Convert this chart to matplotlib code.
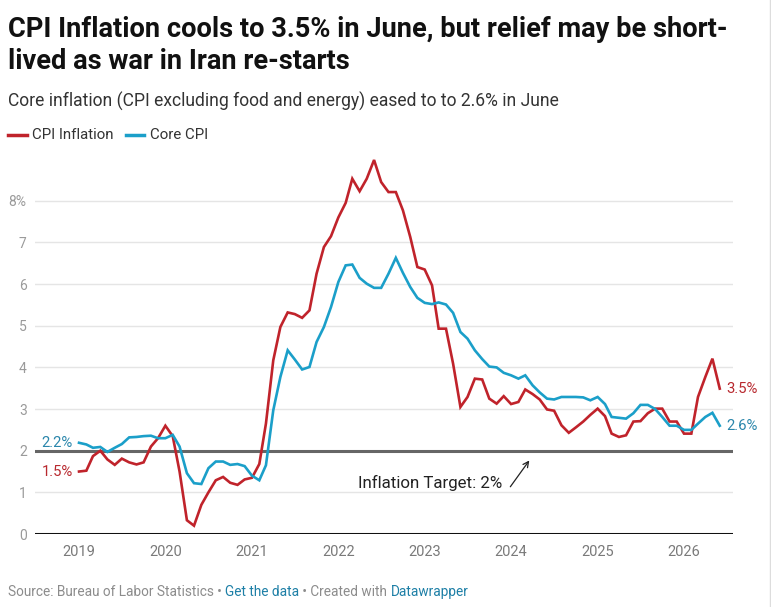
import pandas as pd
import matplotlib.pyplot as plt
from matplotlib.lines import Line2D

plt.rcParams["font.family"] = ["Roboto", "DejaVu Sans"]

# monthly data, Jan 2019 - Jun 2026
months = pd.date_range("2019-01-01", periods=90, freq="MS")

cpi = [
    1.5, 1.52, 1.87, 2.0, 1.79, 1.66, 1.81, 1.72, 1.67, 1.72, 2.1, 2.3,      # 2019
    2.6, 2.35, 1.5, 0.33, 0.2, 0.7, 1.0, 1.29, 1.37, 1.23, 1.18, 1.31,       # 2020
    1.35, 1.68, 2.65, 4.17, 4.97, 5.32, 5.28, 5.19, 5.37, 6.25, 6.89, 7.15,  # 2021
    7.6, 7.95, 8.53, 8.23, 8.53, 8.98, 8.45, 8.21, 8.21, 7.77, 7.13, 6.41,   # 2022
    6.35, 5.97, 4.93, 4.93, 4.09, 3.05, 3.29, 3.73, 3.71, 3.25, 3.13, 3.31,  # 2023
    3.12, 3.17, 3.47, 3.36, 3.23, 2.99, 2.96, 2.61, 2.43, 2.56, 2.7, 2.86,   # 2024
    3.01, 2.83, 2.41, 2.33, 2.37, 2.7, 2.71, 2.9, 3.01, 3.01, 2.7, 2.7,      # 2025
    2.41, 2.41, 3.29, 3.77, 4.21, 3.49,                                      # 2026
]
core = [
    2.19, 2.15, 2.07, 2.09, 1.97, 2.07, 2.16, 2.32, 2.33, 2.35, 2.36, 2.3,   # 2019
    2.3, 2.38, 2.1, 1.46, 1.22, 1.2, 1.58, 1.74, 1.74, 1.66, 1.68, 1.63,     # 2020
    1.4, 1.29, 1.65, 2.97, 3.77, 4.41, 4.19, 3.95, 4.01, 4.61, 4.97, 5.45,   # 2021
    6.05, 6.45, 6.47, 6.15, 6.01, 5.91, 5.91, 6.25, 6.63, 6.27, 5.93, 5.67,  # 2022
    5.55, 5.52, 5.56, 5.51, 5.31, 4.85, 4.69, 4.41, 4.2, 4.02, 4.0, 3.87,    # 2023
    3.81, 3.73, 3.81, 3.57, 3.4, 3.25, 3.23, 3.29, 3.29, 3.29, 3.28, 3.21,   # 2024
    3.29, 3.12, 2.81, 2.79, 2.77, 2.9, 3.1, 3.1, 3.0, 2.81, 2.6, 2.6,        # 2025
    2.5, 2.5, 2.65, 2.81, 2.91, 2.6,                                         # 2026
]
years = list(range(2019, 2027))
y_ticks = [0, 1, 2, 3, 4, 5, 6, 7, 8]
y_labels = ["0", "1", "2", "3", "4", "5", "6", "7", "8%"]
target = 2

RED = "#c0232b"
BLUE = "#1b9fc9"
RED_TXT = "#b8292f"
BLUE_TXT = "#2a86ab"
GRAY = "#8c8c8c"

W, H = 771, 607
fig = plt.figure(figsize=(W / 100, H / 100), dpi=100)


def fx(px):
    return px / W


def fy(py):
    return 1 - py / H


ax = fig.add_axes([fx(35), fy(534), fx(733 - 35), (534 - 150) / H])

# grid
for v in y_ticks[1:]:
    ax.axhline(v, color="#e5e5e5", lw=1, zorder=0)
ax.axhline(0, color="#111111", lw=2.2, zorder=3)
ax.axhline(target, color="#666666", lw=2.2, zorder=2)

ax.plot(months, cpi, color=RED, lw=1.9, zorder=4, solid_joinstyle="miter")
ax.plot(months, core, color=BLUE, lw=1.9, zorder=4, solid_joinstyle="miter")

ax.set_ylim(0, 9.22)
ax.set_xlim(pd.Timestamp("2018-06-29"), pd.Timestamp("2026-07-27"))
ax.set_yticks(y_ticks)
ax.set_yticklabels(y_labels)
ax.set_xticks([pd.Timestamp(f"{y}-01-01") for y in years])
ax.set_xticklabels([str(y) for y in years])
ax.tick_params(axis="y", length=0, pad=6, labelsize=10, labelcolor="#9a9a9a")
ax.tick_params(axis="x", length=0, pad=8, labelsize=10.5, labelcolor="#7a7a7a")
for s in ax.spines.values():
    s.set_visible(False)
ax.patch.set_alpha(0)

# start / end labels
lab = dict(textcoords="offset points", va="center", fontsize=10.7)
ax.annotate(f"{core[0]:.1f}%", xy=(months[0], core[0]), xytext=(-4.5, 0),
            ha="right", color=BLUE_TXT, **lab)
ax.annotate(f"{cpi[0]:.1f}%", xy=(months[0], cpi[0]), xytext=(-4.5, 0),
            ha="right", color=RED_TXT, **lab)
ax.annotate(f"{cpi[-1]:.1f}%", xy=(months[-1], cpi[-1]), xytext=(4.5, 0),
            ha="left", color=RED_TXT, **lab)
ax.annotate(f"{core[-1]:.1f}%", xy=(months[-1], core[-1]), xytext=(4.5, 0),
            ha="left", color=BLUE_TXT, **lab)

# target annotation
ax.text(pd.Timestamp("2023-01-24"), 1.22, "Inflation Target: 2%",
        ha="center", va="center", fontsize=12.2, color="#222222")
ax.annotate("", xy=(pd.Timestamp("2024-03-25"), 1.82),
            xytext=(pd.Timestamp("2023-12-22"), 1.08),
            arrowprops=dict(arrowstyle="->", color="#222222", lw=0.9,
                            mutation_scale=10))

# titles
fig.text(fx(8), fy(37), "CPI Inflation cools to 3.5% in June, but relief may be short-",
         fontsize=19.6, fontweight="bold", color="#111111", va="baseline")
fig.text(fx(8), fy(69), "lived as war in Iran re-starts",
         fontsize=19.6, fontweight="bold", color="#111111", va="baseline")
fig.text(fx(8), fy(107), "Core inflation (CPI excluding food and energy) eased to to 2.6% in June",
         fontsize=12.65, color="#333333", va="baseline")

# legend
fig.add_artist(Line2D([fx(8), fx(27)], [fy(135), fy(135)], color=RED, lw=2.5))
fig.text(fx(32), fy(139), "CPI Inflation", fontsize=10.8, color="#333333", va="baseline")
fig.add_artist(Line2D([fx(126), fx(144)], [fy(135), fy(135)], color=BLUE, lw=2.5))
fig.text(fx(150), fy(139), "Core CPI", fontsize=10.8, color="#333333", va="baseline")

# source line
t = fig.text(fx(8), fy(596), "Source: Bureau of Labor Statistics \u2022 ",
             fontsize=9.85, color=GRAY, va="baseline")
parts = [("Get the data", "#1d7fa6"), (" \u2022 Created with ", GRAY), ("Datawrapper", "#1d7fa6")]
prev = t
for txt, col in parts:
    prev = ax.annotate(txt, xy=(1, 0), xycoords=prev, ha="left", va="bottom",
                       fontsize=9.85, color=col, annotation_clip=False)

fig.add_artist(Line2D([fx(770), fx(770)], [0, 1], color="#dddddd", lw=1))

plt.savefig("out.png", dpi=100)
plt.close()
